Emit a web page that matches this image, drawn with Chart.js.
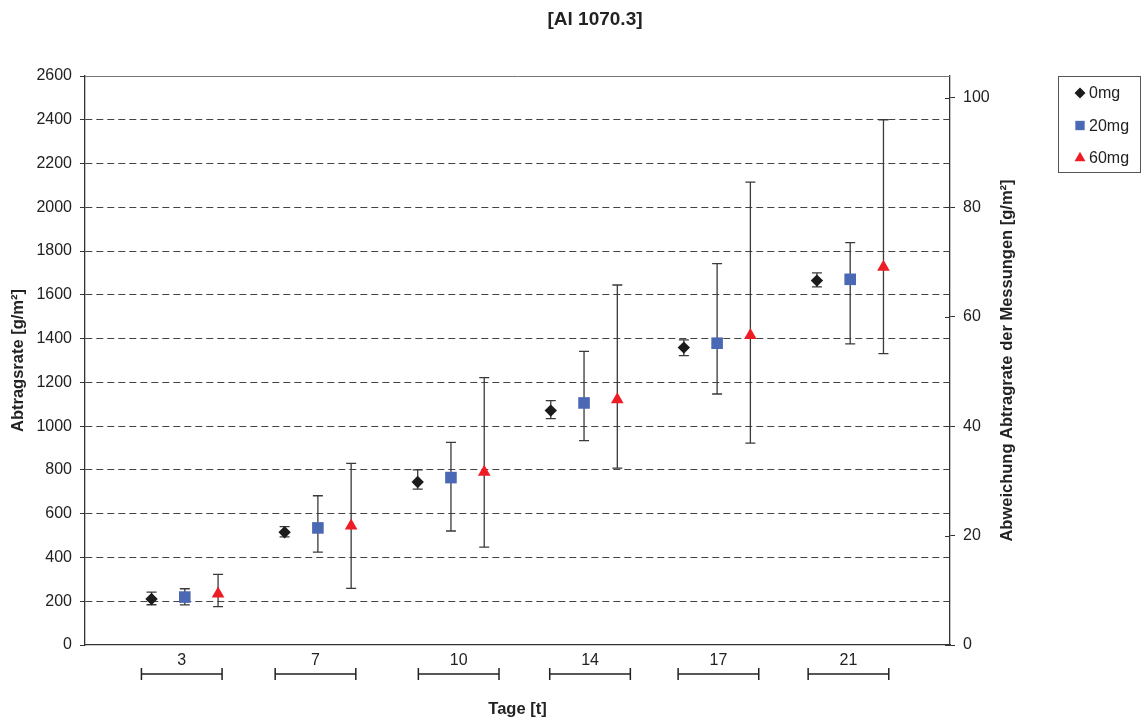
<!DOCTYPE html>
<html lang="de">
<head>
<meta charset="UTF-8">
<title>[Al 1070.3]</title>
<style>
    body {
        margin: 0;
        background: #ffffff;
    }
    #wrap {
        width: 1141px;
        height: 722px;
    }
</style>
<script src="https://cdn.jsdelivr.net/npm/chart.js"></script>
</head>
<body>
<div id="wrap"><canvas id="chart" width="1141" height="722"></canvas></div>
<script>
// Tage (Kategorien)
var days = ['3', '7', '10', '14', '17', '21'];

// Abtragsrate [g/m²]
var mg0 = [210, 515, 745, 1071, 1359, 1665];
var mg20 = [219, 535, 765, 1106, 1379, 1671];
var mg60 = [234, 545, 790, 1121, 1415, 1727];

// Fehlerbalken, obere und untere Grenze
var mg0Hi = [242, 541, 800, 1117, 1394, 1700];
var mg0Lo = [184, 494, 712, 1034, 1322, 1636];
var mg20Hi = [257, 682, 926, 1342, 1743, 1839];
var mg20Lo = [183, 424, 521, 934, 1147, 1376];
var mg60Hi = [323, 830, 1222, 1645, 2115, 2400];
var mg60Lo = [175, 259, 447, 808, 922, 1331];

// Achsen
var yMax = 2600, yStep = 200;
var y2Max = 104, y2Step = 20;

// layout: position of the markers inside a group, label/bracket centres
var groupOffset = [0.5, 0.75, 1.0];
var labelPos = [0.727, 1.732, 2.808, 3.795, 4.76, 5.737];
var bracketHalf = 0.303;

var FONT = 'Arial, "Liberation Sans", sans-serif';
Chart.defaults.font.family = FONT;
Chart.defaults.color = '#222';

function points(vals, off) {
    return vals.map(function(v, i) { return { x: i + off, y: v }; });
}

function plain(v) {
    return String(v);
}

function drawMarker(ctx, style, r, x, y) {
    if (Chart.helpers && Chart.helpers.drawPoint) {
        Chart.helpers.drawPoint(ctx, { pointStyle: style, radius: r, rotation: 0, borderWidth: 0 }, x, y);
        return;
    }
    ctx.beginPath();
    if (style === 'rectRot') {
        ctx.moveTo(x, y - r); ctx.lineTo(x + r, y); ctx.lineTo(x, y + r); ctx.lineTo(x - r, y);
    } else if (style === 'rect') {
        var s = r * Math.SQRT1_2;
        ctx.rect(x - s, y - s, 2 * s, 2 * s);
    } else {
        ctx.moveTo(x, y - r); ctx.lineTo(x + r * 0.866, y + r / 2); ctx.lineTo(x - r * 0.866, y + r / 2);
    }
    ctx.closePath();
    ctx.fill();
}

var errorBars = {
    id: 'errorBars',
    beforeDatasetsDraw: function(chart) {
        var ctx = chart.ctx;
        var xs = chart.scales.x, ys = chart.scales.y;
        ctx.save();
        ctx.strokeStyle = '#3a3a3a';
        ctx.lineWidth = 1.3;
        chart.data.datasets.forEach(function(ds, di) {
            ds.errHi.forEach(function(hi, i) {
                var x = xs.getPixelForValue(i + groupOffset[di]);
                var yh = ys.getPixelForValue(hi);
                var yl = ys.getPixelForValue(ds.errLo[i]);
                ctx.beginPath();
                ctx.moveTo(x, yh); ctx.lineTo(x, yl);
                ctx.moveTo(x - 5, yh); ctx.lineTo(x + 5, yh);
                ctx.moveTo(x - 5, yl); ctx.lineTo(x + 5, yl);
                ctx.stroke();
            });
        });
        ctx.restore();
    }
};

var frame = {
    id: 'frame',
    afterDraw: function(chart) {
        var ctx = chart.ctx;
        var a = chart.chartArea;
        var xs = chart.scales.x, y2 = chart.scales.y2;
        ctx.save();

        // top border of the plot
        ctx.strokeStyle = '#777';
        ctx.lineWidth = 1;
        ctx.beginPath();
        ctx.moveTo(a.left, a.top + 0.5);
        ctx.lineTo(a.right, a.top + 0.5);
        ctx.stroke();

        // right axis ticks cross the axis
        ctx.strokeStyle = '#333';
        y2.ticks.forEach(function(t) {
            var py = Math.round(y2.getPixelForValue(t.value)) + 0.5;
            ctx.beginPath();
            ctx.moveTo(a.right - 5, py);
            ctx.lineTo(a.right, py);
            ctx.stroke();
        });

        // brackets under the day labels
        ctx.strokeStyle = '#222';
        ctx.lineWidth = 1.5;
        var by = a.bottom + 29;
        labelPos.forEach(function(p) {
            var x1 = xs.getPixelForValue(p - bracketHalf);
            var x2 = xs.getPixelForValue(p + bracketHalf);
            ctx.beginPath();
            ctx.moveTo(x1, by); ctx.lineTo(x2, by);
            ctx.moveTo(x1, by - 6); ctx.lineTo(x1, by + 6);
            ctx.moveTo(x2, by - 6); ctx.lineTo(x2, by + 6);
            ctx.stroke();
        });

        // title
        ctx.fillStyle = '#222';
        ctx.font = 'bold 19px ' + FONT;
        ctx.textAlign = 'center';
        ctx.textBaseline = 'middle';
        ctx.fillText('[Al 1070.3]', 595, 20);

        // right axis title, reads bottom to top
        ctx.save();
        ctx.translate(1007, (a.top + a.bottom) / 2);
        ctx.rotate(-Math.PI / 2);
        ctx.font = 'bold 16.5px ' + FONT;
        ctx.fillText('Abweichung Abtragrate der Messungen [g/m\u00B2]', 0, 0);
        ctx.restore();

        // legend
        ctx.strokeStyle = '#555';
        ctx.lineWidth = 1;
        ctx.strokeRect(1058.5, 76.5, 82, 96);
        var sizes = [5.5, 6.6, 6.3];
        ctx.font = '16px ' + FONT;
        ctx.textAlign = 'left';
        chart.data.datasets.forEach(function(ds, i) {
            var ly = 93 + i * 32.5;
            ctx.fillStyle = ds.backgroundColor;
            drawMarker(ctx, ds.pointStyle, sizes[i], 1080, ly);
            ctx.fillStyle = '#222';
            ctx.fillText(ds.label, 1089, ly + 1);
        });
        ctx.restore();
    }
};

new Chart(document.getElementById('chart'), {
    type: 'scatter',
    data: {
        datasets: [{
            label: '0mg',
            data: points(mg0, groupOffset[0]),
            errHi: mg0Hi, errLo: mg0Lo,
            pointStyle: 'rectRot',
            pointRadius: 6.2,
            backgroundColor: '#1c1a1b',
            borderWidth: 0
        }, {
            label: '20mg',
            data: points(mg20, groupOffset[1]),
            errHi: mg20Hi, errLo: mg20Lo,
            pointStyle: 'rect',
            pointRadius: 8.2,
            backgroundColor: '#4a68b4',
            borderWidth: 0
        }, {
            label: '60mg',
            data: points(mg60, groupOffset[2]),
            errHi: mg60Hi, errLo: mg60Lo,
            pointStyle: 'triangle',
            pointRadius: 7.3,
            backgroundColor: '#ee1c25',
            borderWidth: 0
        }]
    },
    options: {
        responsive: false,
        animation: false,
        layout: { padding: { top: 76, right: 111, bottom: 0, left: 0 } },
        plugins: {
            legend: { display: false },
            title: { display: false },
            tooltip: { enabled: false }
        },
        scales: {
            x: {
                type: 'linear',
                min: 0,
                max: 6.5,
                grid: { display: false, drawTicks: false },
                border: { display: true, color: '#333', width: 1.3 },
                afterBuildTicks: function(scale) {
                    scale.ticks = labelPos.map(function(p) { return { value: p }; });
                },
                afterFit: function(scale) { scale.height = 77; },
                ticks: {
                    autoSkip: false,
                    maxRotation: 0,
                    padding: 6,
                    font: { size: 16 },
                    color: '#222',
                    callback: function(v, i) { return days[i]; }
                },
                title: {
                    display: true,
                    text: 'Tage [t]',
                    font: { size: 16.5, weight: 'bold' },
                    color: '#222',
                    padding: { top: 0, bottom: 3 }
                }
            },
            y: {
                position: 'left',
                min: 0,
                max: yMax,
                afterFit: function(scale) { scale.width = 85; },
                ticks: { stepSize: yStep, padding: 8, font: { size: 16 }, color: '#222', callback: plain },
                grid: {
                    color: function(c) {
                        return (c.tick && (c.tick.value === 0 || c.tick.value === yMax)) ? 'rgba(0,0,0,0)' : '#444';
                    },
                    lineWidth: 1,
                    tickLength: 5,
                    tickColor: '#333',
                    tickBorderDash: []
                },
                border: { display: true, color: '#333', width: 1.3, dash: [7, 4] },
                title: {
                    display: true,
                    text: 'Abtragsrate [g/m\u00B2]',
                    font: { size: 16.5, weight: 'bold' },
                    color: '#222',
                    padding: { top: 9, bottom: 0 }
                }
            },
            y2: {
                position: 'right',
                min: 0,
                max: y2Max,
                afterFit: function(scale) { scale.width = 80; },
                afterBuildTicks: function(scale) {
                    scale.ticks = scale.ticks.filter(function(t) { return t.value % y2Step === 0; });
                },
                ticks: { stepSize: y2Step, includeBounds: false, padding: 8, font: { size: 16 }, color: '#222', callback: plain },
                grid: { drawOnChartArea: false, tickLength: 5, tickColor: '#333' },
                border: { display: true, color: '#333', width: 1.3 }
            }
        }
    },
    plugins: [errorBars, frame]
});
</script>
</body>
</html>
